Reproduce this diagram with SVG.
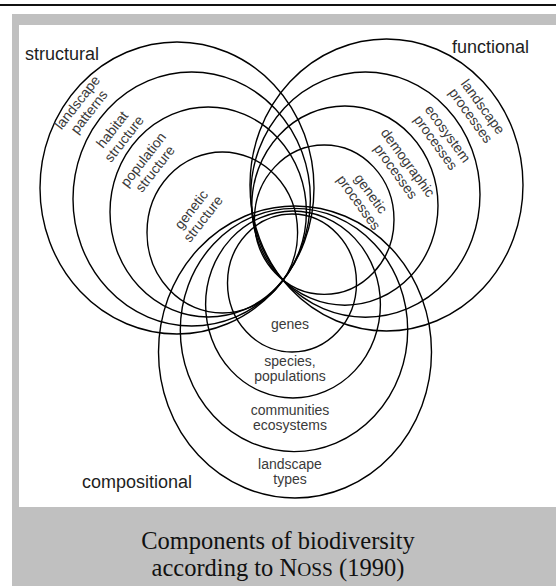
<svg xmlns="http://www.w3.org/2000/svg" width="556" height="586" viewBox="0 0 556 586">
<style>
.c{fill:none;stroke:#000;stroke-width:1.4}
.lab{font-family:"Liberation Sans",Arial,sans-serif;font-size:18px;fill:#1e1e1e}
.sm{font-family:"Liberation Sans",Arial,sans-serif;font-size:14px;fill:#3a3a3a;text-anchor:middle}
.cap{font-family:"Liberation Serif","Times New Roman",serif;font-size:24.5px;fill:#111;text-anchor:middle}
</style>
<rect x="0" y="0" width="556" height="586" fill="#fff"/>
<rect x="0" y="4" width="556" height="2" fill="#111"/>
<rect x="12" y="14" width="544" height="572" fill="#c0c0c0"/>
<rect x="19" y="25" width="537" height="482" fill="#fff"/>
<g id="connectors"/>
<g id="structural">
  <text class="lab" x="25" y="60">structural</text>
  <g id="s-landscape"><ellipse class="c" cx="177" cy="188" rx="137" ry="146"/>
    <text class="sm" transform="translate(83,107) rotate(-52)"><tspan x="0" y="-2.5">landscape</tspan><tspan x="0" y="12.5">patterns</tspan></text></g>
  <g id="s-habitat"><ellipse class="c" cx="191.7" cy="199" rx="118.7" ry="127"/>
    <text class="sm" transform="translate(118,134) rotate(-52)"><tspan x="0" y="-2.5">habitat</tspan><tspan x="0" y="12.5">structure</tspan></text></g>
  <g id="s-population"><ellipse class="c" cx="208.2" cy="212" rx="98.2" ry="105"/>
    <text class="sm" transform="translate(149,164) rotate(-52)"><tspan x="0" y="-2.5">population</tspan><tspan x="0" y="12.5">structure</tspan></text></g>
  <g id="s-genetic"><ellipse class="c" cx="222.3" cy="232.5" rx="75.3" ry="80.5"/>
    <text class="sm" transform="translate(197,214) rotate(-52)"><tspan x="0" y="-2.5">genetic</tspan><tspan x="0" y="12.5">structure</tspan></text></g>
</g>
<g id="functional">
  <text class="lab" x="452" y="53">functional</text>
  <g id="f-landscape"><ellipse class="c" cx="386.5" cy="185" rx="136.5" ry="146"/>
    <text class="sm" transform="translate(477,111) rotate(54)"><tspan x="0" y="-2.5">landscape</tspan><tspan x="0" y="12.5">processes</tspan></text></g>
  <g id="f-ecosystem"><ellipse class="c" cx="365.4" cy="194.6" rx="114.6" ry="122.6"/>
    <text class="sm" transform="translate(442,138) rotate(54)"><tspan x="0" y="-2.5">ecosystem</tspan><tspan x="0" y="12.5">processes</tspan></text></g>
  <g id="f-demographic"><ellipse class="c" cx="344.9" cy="205.6" rx="93.1" ry="99.6"/>
    <text class="sm" transform="translate(402,167) rotate(54)"><tspan x="0" y="-2.5">demographic</tspan><tspan x="0" y="12.5">processes</tspan></text></g>
  <g id="f-genetic"><ellipse class="c" cx="324.2" cy="219.7" rx="69.8" ry="74.7"/>
    <text class="sm" transform="translate(365,198) rotate(54)"><tspan x="0" y="-2.5">genetic</tspan><tspan x="0" y="12.5">processes</tspan></text></g>
</g>
<g id="compositional">
  <text class="lab" x="82" y="488">compositional</text>
  <g id="c-genes"><ellipse class="c" cx="292" cy="283" rx="64.5" ry="69"/>
    <text class="sm" x="290" y="329">genes</text></g>
  <g id="c-species"><ellipse class="c" cx="293" cy="304.5" rx="87.4" ry="93.5"/>
    <text class="sm"><tspan x="290" y="366">species,</tspan><tspan x="290" y="381">populations</tspan></text></g>
  <g id="c-communities"><ellipse class="c" cx="294" cy="330" rx="113.7" ry="121.6"/>
    <text class="sm"><tspan x="290" y="415">communities</tspan><tspan x="290" y="430">ecosystems</tspan></text></g>
  <g id="c-landscape"><ellipse class="c" cx="295" cy="352" rx="136.5" ry="146"/>
    <text class="sm"><tspan x="290" y="469">landscape</tspan><tspan x="290" y="484">types</tspan></text></g>
</g>
<g id="caption">
  <text class="cap" x="278" y="549">Components of biodiversity</text>
  <text class="cap" x="278" y="576">according to N<tspan font-size="19.5">OSS</tspan> (1990)</text>
</g>
</svg>
